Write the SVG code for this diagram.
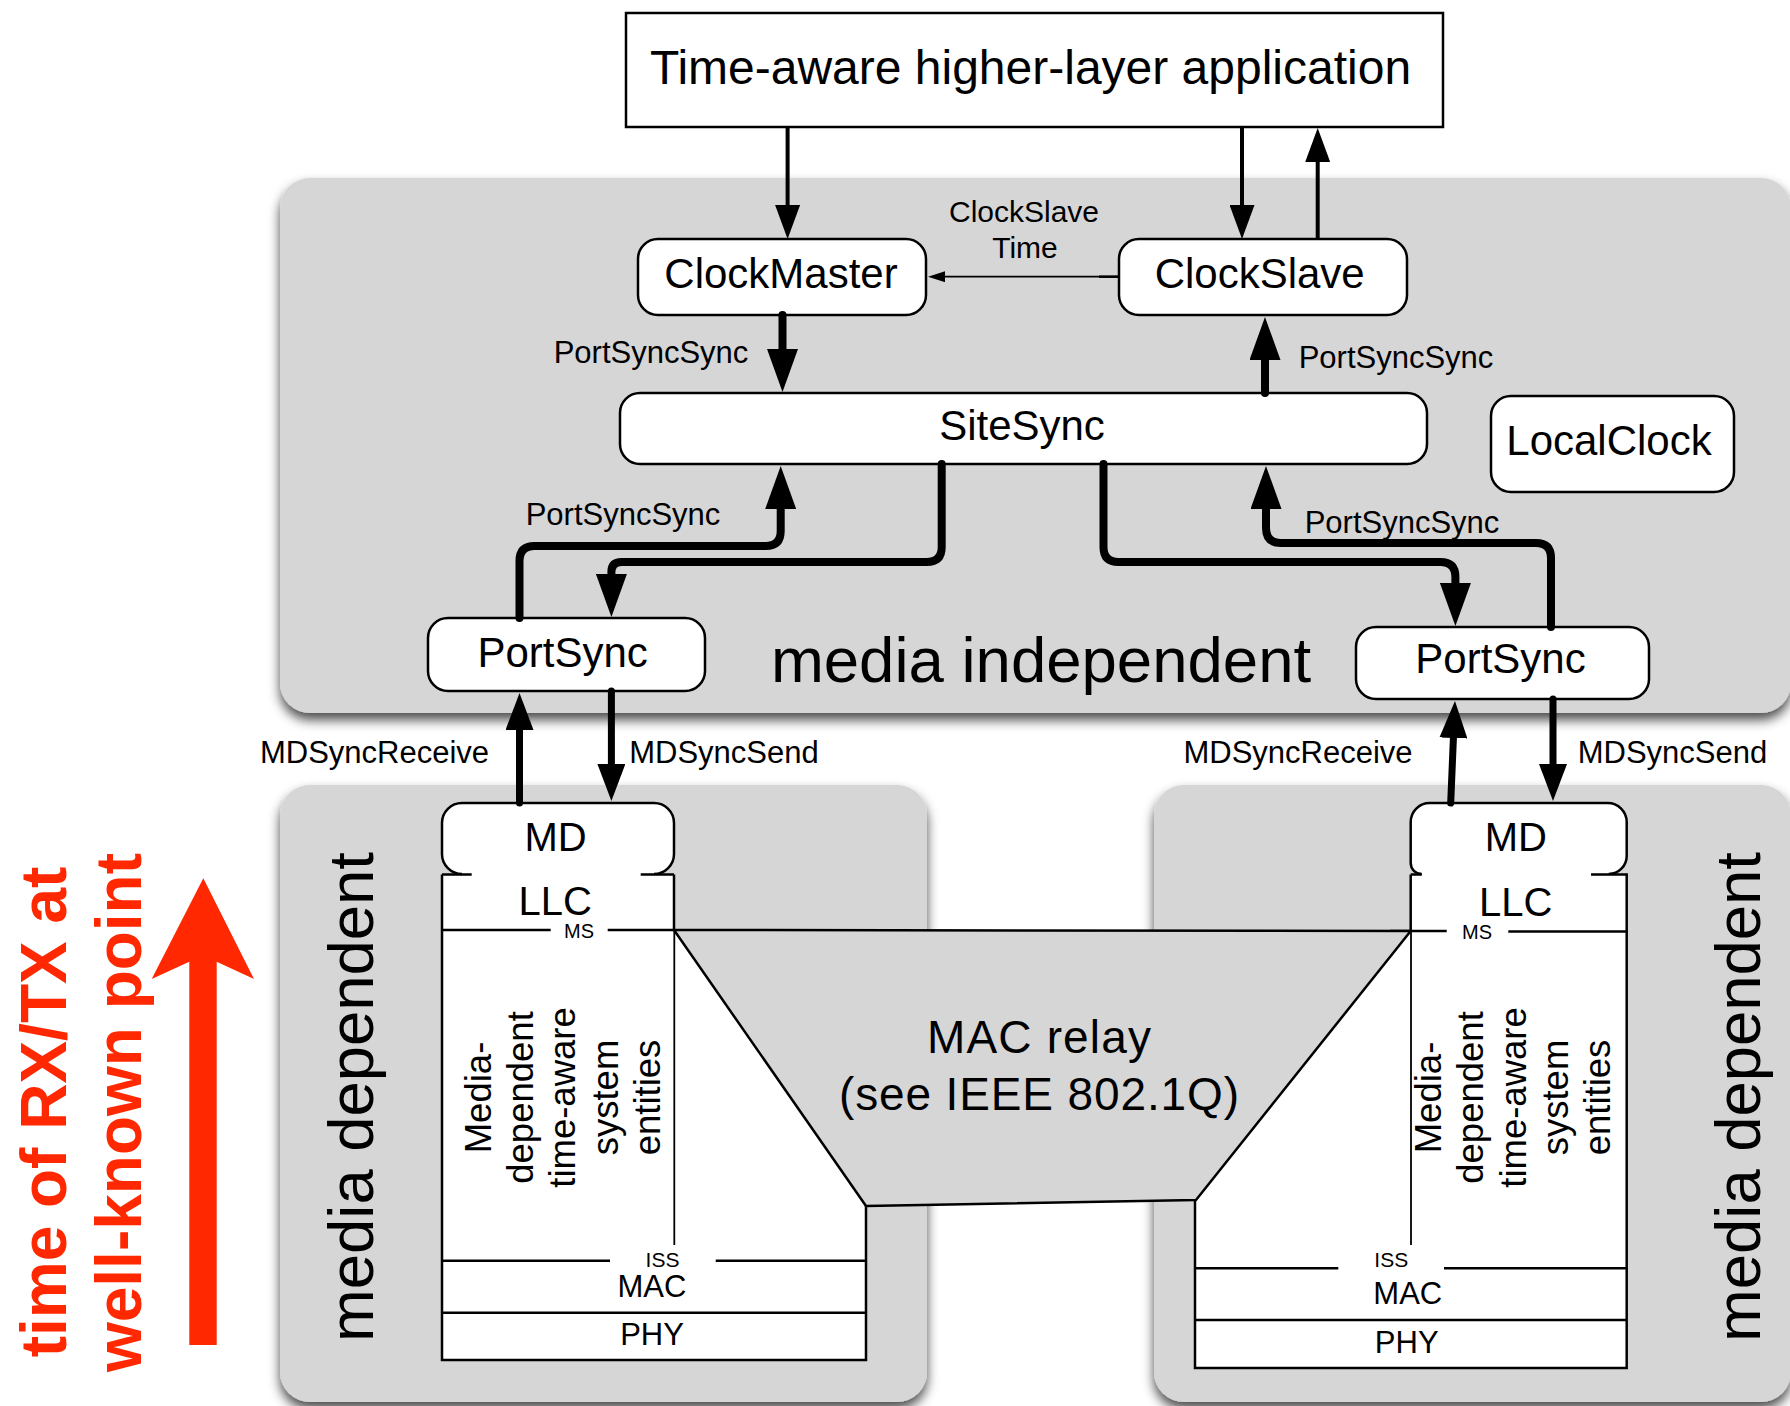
<svg xmlns="http://www.w3.org/2000/svg" width="1790" height="1406" viewBox="0 0 1790 1406">
<defs>
<style>
.t{font-family:"Liberation Sans",Arial,Helvetica,sans-serif;fill:#000}
.box{fill:#fff;stroke:#000;stroke-width:2.5}
.region{fill:#d6d6d6;filter:url(#sh)}
.ln{fill:none;stroke:#000;stroke-width:2.5}
.thin{fill:none;stroke:#000;stroke-width:1.8}
.thick{fill:none;stroke:#000;stroke-width:8;stroke-linecap:round;stroke-linejoin:round}
.med{fill:none;stroke:#000;stroke-width:7;stroke-linecap:round}
.top{fill:none;stroke:#000;stroke-width:4}
.red{font-family:"Liberation Sans",Arial,Helvetica,sans-serif;font-weight:bold;fill:#ff2800;font-size:64px}
</style>
<filter id="sh" x="-5%" y="-5%" width="110%" height="115%">
<feDropShadow dx="0" dy="7" stdDeviation="6" flood-color="#000" flood-opacity="0.7"/>
</filter>
<marker id="aThick" markerUnits="userSpaceOnUse" markerWidth="43" markerHeight="31" viewBox="0 0 43 31" refX="2" refY="15.5" orient="auto"><path d="M0,0 L43,15.5 L0,31 Z" fill="#000"/></marker>
<marker id="aMed" markerUnits="userSpaceOnUse" markerWidth="37" markerHeight="28" viewBox="0 0 37 28" refX="2" refY="14" orient="auto"><path d="M0,0 L37,14 L0,28 Z" fill="#000"/></marker>
<marker id="aTop" markerUnits="userSpaceOnUse" markerWidth="34" markerHeight="25" viewBox="0 0 34 25" refX="2" refY="12.5" orient="auto"><path d="M0,0 L34,12.5 L0,25 Z" fill="#000"/></marker>
<marker id="aThin" markerUnits="userSpaceOnUse" markerWidth="17" markerHeight="11" viewBox="0 0 17 11" refX="1" refY="5.5" orient="auto"><path d="M0,0 L17,5.5 L0,11 Z" fill="#000"/></marker>
</defs>

<rect width="1790" height="1406" fill="#fff"/>

<g id="regions">
<rect id="media-independent" class="region" x="280" y="178" width="1511" height="535" rx="30"/>
<rect id="media-dependent-left" class="region" x="280" y="785" width="647" height="617" rx="30"/>
<rect id="media-dependent-right" class="region" x="1154" y="785" width="637" height="617" rx="30"/>
</g>

<g id="region-labels">
<text class="t" x="1041" y="682" font-size="63.5" text-anchor="middle">media independent</text>
<text class="t" transform="translate(373,1097) rotate(-90)" font-size="63.4" text-anchor="middle">media dependent</text>
<text class="t" transform="translate(1760,1097) rotate(-90)" font-size="63.4" text-anchor="middle">media dependent</text>
</g>

<g id="rx-tx-note">
<text class="red" transform="translate(66,1112) rotate(-90)" text-anchor="middle">time of RX/TX at</text>
<text class="red" transform="translate(140.6,1112.5) rotate(-90)" text-anchor="middle">well-known point</text>
<polygon points="203.3,878.3 254,979 216.7,961.7 216.7,1345 189.3,1345 189.3,961.7 151.7,979" fill="#ff2800"/>
</g>

<g id="stack-left">
<rect x="442" y="874" width="232" height="56" fill="#fff"/>
<polygon points="442,930 674,930 866,1206 866,1360 442,1360" fill="#fff"/>
<path class="box" d="M462,874 A20,20 0 0 1 442,854 V823 A20,20 0 0 1 462,803 H654 A20,20 0 0 1 674,823 V854 A20,20 0 0 1 654,874"/>
<path class="ln" d="M442,874.5 H471.7 M640.7,874.5 H674 M442,874.5 V1360 H866 V1205 M674,874.5 V930"/>
<path class="ln" stroke-width="3.4" d="M442,930 H550.7 M607.7,930 H674"/>
<path class="thin" d="M674.3,930 V1245"/>
<path class="ln" stroke-width="2.8" d="M442,1260.7 H610 M715.7,1260.7 H866 M442,1312.7 H866"/>
<text class="t" x="555.5" y="850.7" font-size="40" text-anchor="middle">MD</text>
<text class="t" x="555.3" y="915" font-size="40" text-anchor="middle">LLC</text>
<text class="t" x="579" y="938.3" font-size="20" text-anchor="middle">MS</text>
<text class="t" x="662.5" y="1267.3" font-size="21" text-anchor="middle">ISS</text>
<text class="t" x="652" y="1296.7" font-size="31" text-anchor="middle">MAC</text>
<text class="t" x="652" y="1345" font-size="31" text-anchor="middle">PHY</text>
<g class="t" font-size="36.5" text-anchor="middle">
<text transform="translate(490.8,1097.5) rotate(-90)">Media-</text>
<text transform="translate(533.1,1097.5) rotate(-90)">dependent</text>
<text transform="translate(575.4,1097.5) rotate(-90)">time-aware</text>
<text transform="translate(617.7,1097.5) rotate(-90)">system</text>
<text transform="translate(660,1097.5) rotate(-90)">entities</text>
</g>
</g>

<g id="stack-right">
<rect x="1410.7" y="874" width="216" height="58" fill="#fff"/>
<polygon points="1410.7,931.5 1626.7,931.5 1626.7,1368 1195,1368 1195,1200 1196,1200" fill="#fff"/>
<path class="box" d="M1421.7,874 A11,11 0 0 1 1410.7,863 V822 A19,19 0 0 1 1429.7,803 H1607.7 A19,19 0 0 1 1626.7,822 V856 A18,18 0 0 1 1608.7,874"/>
<path class="ln" d="M1410.7,874.5 H1421.7 M1591,874.5 H1626.7 V1368 H1195 V1200 M1410.7,874.5 V931.5"/>
<path class="ln" stroke-width="3.4" d="M1390,931 H1446.7 M1508.3,931.5 H1626.7"/>
<path class="thin" d="M1411,931.5 V1245"/>
<path class="ln" stroke-width="2.8" d="M1195,1268.3 H1338.3 M1444,1268.3 H1626.7 M1195,1320 H1626.7"/>
<text class="t" x="1515.8" y="850.7" font-size="40" text-anchor="middle">MD</text>
<text class="t" x="1515.7" y="916" font-size="40" text-anchor="middle">LLC</text>
<text class="t" x="1477" y="939" font-size="20" text-anchor="middle">MS</text>
<text class="t" x="1391.3" y="1267.3" font-size="21" text-anchor="middle">ISS</text>
<text class="t" x="1407.8" y="1304" font-size="31" text-anchor="middle">MAC</text>
<text class="t" x="1406.7" y="1352.7" font-size="31" text-anchor="middle">PHY</text>
<g class="t" font-size="36.5" text-anchor="middle">
<text transform="translate(1441,1097.5) rotate(-90)">Media-</text>
<text transform="translate(1483.3,1097.5) rotate(-90)">dependent</text>
<text transform="translate(1525.6,1097.5) rotate(-90)">time-aware</text>
<text transform="translate(1567.9,1097.5) rotate(-90)">system</text>
<text transform="translate(1610.2,1097.5) rotate(-90)">entities</text>
</g>
</g>

<g id="mac-relay">
<polygon points="674,930 1410.7,931 1196,1200 866,1206" fill="#d6d6d6" stroke="#000" stroke-width="2.5" stroke-linejoin="round"/>
<text class="t" x="1039" y="1053" font-size="46" text-anchor="middle" textLength="224">MAC relay</text>
<text class="t" x="1039" y="1110" font-size="46" text-anchor="middle" textLength="400">(see IEEE 802.1Q)</text>
</g>

<g id="node-app">
<rect x="626" y="13" width="817" height="114" fill="#fff" stroke="#000" stroke-width="2.5"/>
<text class="t" x="1030.5" y="84" font-size="48" text-anchor="middle">Time-aware higher-layer application</text>
</g>
<g id="node-clockmaster">
<rect class="box" x="638" y="239" width="288" height="76" rx="20"/>
<text class="t" x="781" y="288.3" font-size="42" text-anchor="middle">ClockMaster</text>
</g>
<g id="node-clockslave">
<rect class="box" x="1119" y="239" width="288" height="76" rx="20"/>
<text class="t" x="1259.7" y="288.3" font-size="42" text-anchor="middle">ClockSlave</text>
</g>
<g id="node-sitesync">
<rect class="box" x="620" y="393" width="807" height="71" rx="20"/>
<text class="t" x="1022" y="440" font-size="42" text-anchor="middle">SiteSync</text>
</g>
<g id="node-localclock">
<rect class="box" x="1491" y="396" width="243" height="96" rx="20"/>
<text class="t" x="1609" y="455" font-size="42" text-anchor="middle">LocalClock</text>
</g>
<g id="node-portsync-left">
<rect class="box" x="428" y="618" width="277" height="73" rx="20"/>
<text class="t" x="562.6" y="667" font-size="42" text-anchor="middle">PortSync</text>
</g>
<g id="node-portsync-right">
<rect class="box" x="1356" y="627" width="293" height="72" rx="20"/>
<text class="t" x="1500.5" y="673.3" font-size="42" text-anchor="middle">PortSync</text>
</g>

<g id="connectors">
<path class="top" d="M787.6,127 V207" marker-end="url(#aTop)"/>
<path class="top" d="M1242,127 V207" marker-end="url(#aTop)"/>
<path class="top" d="M1317.7,239 V160" marker-end="url(#aTop)"/>
<path class="thin" d="M1118,276.7 H944" marker-end="url(#aThin)"/>
<path class="ln" d="M1099,276.7 H1119"/>
<path class="thick" d="M782.5,315 V351" marker-end="url(#aThick)"/>
<path class="thick" d="M1265,393 V358" marker-end="url(#aThick)"/>
<path class="thick" d="M519.5,618 V561 Q519.5,546 534.5,546 H765.7 Q780.7,546 780.7,531 V507" marker-end="url(#aThick)"/>
<path class="thick" d="M941.7,464 V547 Q941.7,562 926.7,562 H621.4 Q611.4,562 611.4,572 V576" marker-end="url(#aThick)"/>
<path class="thick" d="M1103.5,464 V547 Q1103.5,562 1118.5,562 H1440.4 Q1455.4,562 1455.4,577 V585" marker-end="url(#aThick)"/>
<path class="thick" d="M1551,627 V558 Q1551,543 1536,543 H1281 Q1266,543 1266,528 V507" marker-end="url(#aThick)"/>
<path class="med" d="M519.5,803 V728" marker-end="url(#aMed)"/>
<path class="med" d="M611.4,691 V766" marker-end="url(#aMed)"/>
<path class="med" d="M1450.7,803 L1453.5,736" marker-end="url(#aMed)"/>
<path class="med" d="M1553,699 V766" marker-end="url(#aMed)"/>
</g>

<g id="connector-labels" class="t" font-size="31" text-anchor="middle">
<text x="1024" y="221.7" font-size="30">ClockSlave</text>
<text x="1025" y="258.3" font-size="30">Time</text>
<text x="651" y="363">PortSyncSync</text>
<text x="1396" y="368">PortSyncSync</text>
<text x="623" y="525">PortSyncSync</text>
<text x="1402" y="533">PortSyncSync</text>
<text x="374.5" y="763">MDSyncReceive</text>
<text x="724" y="763">MDSyncSend</text>
<text x="1298" y="763">MDSyncReceive</text>
<text x="1672.5" y="763">MDSyncSend</text>
</g>
</svg>
